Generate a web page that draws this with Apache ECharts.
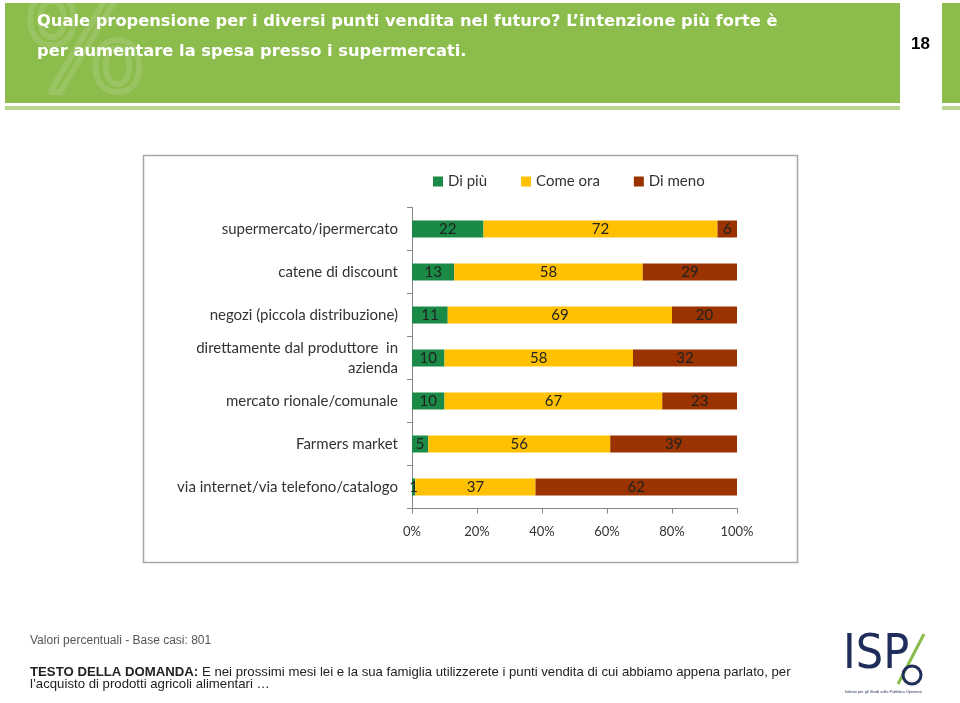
<!DOCTYPE html>
<html><head><meta charset="utf-8">
<script src="https://cdn.jsdelivr.net/npm/echarts@6/dist/echarts.min.js"></script>
<style>html,body{margin:0;padding:0;background:#fff}#c{width:960px;height:703px}</style>
</head><body><div id="c"></div>
<script>
const categories = ['supermercato/ipermercato','catene di discount','negozi (piccola distribuzione)','direttamente dal produttore  in\nazienda','mercato rionale/comunale','Farmers market','via internet/via telefono/catalogo'];
const seriesNames = ['Di più','Come ora','Di meno'];
const diPiu = [22,13,11,10,10,5,1];
const comeOra = [72,58,69,58,67,56,37];
const diMeno = [6,29,20,32,23,39,62];
const xTicks = [0,20,40,60,80,100];
const colors = ['#1a8a46','#ffc000','#9a3300'];

const chart = echarts.init(document.getElementById('c'), null, {renderer:'canvas'});
const F = 'Lato, "Open Sans", sans-serif';
const vals = [diPiu, comeOra, diMeno];
chart.setOption({
  animation:false,
  backgroundColor:'#fff',
  textStyle:{fontFamily:F},
  graphic:[
    {type:'rect', shape:{x:5,y:3,width:895,height:100}, style:{fill:'#8bbc4c'}},
    {type:'rect', shape:{x:942,y:3,width:18,height:100}, style:{fill:'#8bbc4c'}},
    {type:'rect', shape:{x:5,y:106,width:895,height:4}, style:{fill:'#b9d68e'}},
    {type:'rect', shape:{x:942,y:106,width:18,height:4}, style:{fill:'#b9d68e'}},
    {type:'text', left:20, top:-12, style:{text:'%', font:'130px "DejaVu Sans"', fill:'none', stroke:'rgba(255,255,255,0.12)', lineWidth:6}},
    {type:'text', left:37, top:14, style:{text:'Quale propensione per i diversi punti vendita nel futuro? L\u2019intenzione più forte è', font:'bold 16.3px "DejaVu Sans"', fill:'#ffffff'}},
    {type:'text', left:37, top:44, style:{text:'per aumentare la spesa presso i supermercati.', font:'bold 16.3px "DejaVu Sans"', fill:'#ffffff'}},
    {type:'text', left:911, top:36, style:{text:'18', font:'bold 17px "Liberation Sans"', fill:'#000'}},
    {type:'rect', shape:{x:143.5,y:155.5,width:654,height:407}, style:{fill:'none', stroke:'#a6a6a6', lineWidth:1.5}},
    {type:'text', left:30, top:635, style:{text:'Valori percentuali - Base casi: 801', font:'12px "Liberation Sans"', fill:'#555'}},
    {type:'text', left:30, top:666, style:{rich:{b:{font:'bold 13.2px "Liberation Sans"', fill:'#222'}, n:{font:'13.2px "Liberation Sans"', fill:'#222'}}, text:'{b|TESTO DELLA DOMANDA:}{n| E nei prossimi mesi lei e la sua famiglia utilizzerete i punti vendita di cui abbiamo appena parlato, per}'}},
    {type:'text', left:30, top:678, style:{text:'l\u2019acquisto di prodotti agricoli alimentari …', font:'13.2px "Liberation Sans"', fill:'#222'}},
    {type:'text', left:843, top:632, style:{text:'ISP', font:'48px "Liberation Sans Narrow", "DejaVu Sans Condensed"', fill:'#1f2d5a'}},
    {type:'line', shape:{x1:898,y1:684,x2:924,y2:634}, style:{stroke:'#8bbc4c', lineWidth:3}},
    {type:'circle', shape:{cx:912,cy:675,r:9}, style:{fill:'none', stroke:'#1f2d5a', lineWidth:3}},
    {type:'text', left:845, top:690, style:{text:'Istituto per gli Studi sulla Pubblica Opinione', font:'4px sans-serif', fill:'#1f2d5a'}}
  ],
  legend:{
    left:428, top:169, itemWidth:10, itemHeight:10, itemGap:34, icon:'rect',
    textStyle:{fontSize:15, color:'#333', fontFamily:F},
    data:seriesNames
  },
  grid:{left:412, right:223, top:207.5, height:301, containLabel:false},
  xAxis:{
    type:'value', min:0, max:100, interval:20,
    axisLine:{show:true, lineStyle:{color:'#868686'}},
    axisTick:{show:true, length:5, lineStyle:{color:'#868686'}},
    splitLine:{show:false},
    axisLabel:{formatter:'{value}%', fontSize:13, color:'#333', margin:17, fontFamily:F},
    data:xTicks
  },
  yAxis:{
    type:'category', inverse:true, data:categories,
    axisLine:{show:true, lineStyle:{color:'#868686'}},
    axisTick:{show:true, length:5, lineStyle:{color:'#868686'}},
    axisLabel:{fontSize:15, color:'#333', margin:14, lineHeight:20, align:'right', fontFamily:F}
  },
  series: seriesNames.map((n,i)=>({
    name:n, type:'bar', stack:'t', barWidth:17,
    itemStyle:{color:colors[i]},
    label:{show:true, position:'inside', color:'#222', fontSize:15, fontFamily:F},
    data:vals[i]
  }))
});
</script></body></html>
